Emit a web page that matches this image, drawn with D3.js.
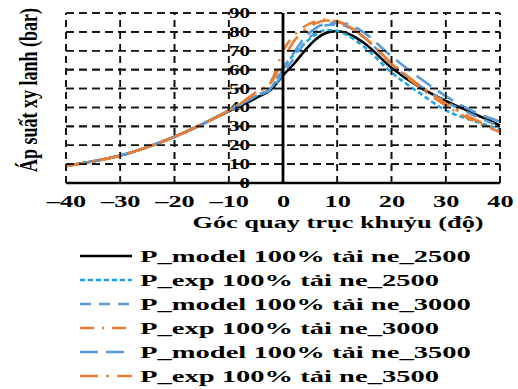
<!DOCTYPE html>
<html>
<head>
<meta charset="utf-8">
<script src="https://cdn.jsdelivr.net/npm/d3@7"></script>
<style>
  body { margin: 0; background: #fff; }
  text { font-family: "Liberation Serif", "Times New Roman", serif; font-weight: bold; fill: #000; }
</style>
</head>
<body>
<div id="chart"></div>
<script>
// crank angle (deg)
const angle = [-40, -35, -30, -25, -20, -15, -10, -5, -2, 0, 2, 4, 6, 8, 10, 12, 15, 20, 25, 30, 35, 40];

const pModel2500 = [9, 11.5, 14.5, 19, 24.5, 31, 38, 45, 50, 57, 63, 70, 76, 79.5, 80.5, 79, 74, 61, 51, 43.5, 37, 30.5];
const pExp2500   = [9, 11.5, 14.5, 19, 24.5, 31, 38, 46, 51, 61, 68, 74, 78.5, 81, 80.5, 78, 72, 58.5, 48, 38.5, 33, 28.5];
const pModel3000 = [9, 11.5, 14.5, 19, 24.5, 31, 38.5, 46, 50, 58, 66, 74, 80, 83.5, 84, 82.5, 77, 63, 52, 43, 36, 30];
const pExp3000   = [9, 11.5, 14.5, 19, 24.5, 31, 38.5, 48, 55, 70, 78, 83, 85.5, 86.5, 85.5, 83, 77, 63, 51, 41, 33, 27];
const pModel3500 = [9, 11.5, 14.5, 19, 24.5, 31, 38.5, 46, 51, 60, 69, 77, 82, 84.5, 85, 84, 79.5, 67, 56, 46, 38, 32.5];
const pExp3500   = [9, 11.5, 14.5, 19, 24.5, 31, 38.5, 47.5, 54, 65, 75, 81, 84.5, 86, 85.5, 83, 77, 63.5, 52, 42, 34, 28];

const seriesNames = [
  "P_model 100% tải ne_2500",
  "P_exp 100% tải ne_2500",
  "P_model 100% tải ne_3000",
  "P_exp 100% tải ne_3000",
  "P_model 100% tải ne_3500",
  "P_exp 100% tải ne_3500"
];
const seriesValues = [pModel2500, pExp2500, pModel3000, pExp3000, pModel3500, pExp3500];
const seriesColors = ["#000000", "#1aa7e4", "#5b9bd5", "#ed7d31", "#5b9bd5", "#ed7d31"];
const seriesDash = ["none", "5,3", "11,8", "14,8,2,8", "18,8", "18,8,3,8"];

const xTicks = [-40, -30, -20, -10, 0, 10, 20, 30, 40];
const yTicks = [0, 10, 20, 30, 40, 50, 60, 70, 80, 90];

const W = 518, H = 389;
const stretch = 1.55; // glyphs in the reference look stretched sideways

const svg = d3.select("#chart").append("svg")
  .attr("width", W)
  .attr("height", H);

const x = d3.scaleLinear().domain([-40, 40]).range([66, 500]);
const y = d3.scaleLinear().domain([0, 90]).range([183, 13]);

// grid paths
const hPath = d3.path();
yTicks.filter(d => d > 0).forEach(d => { hPath.moveTo(x(-40), y(d)); hPath.lineTo(x(40), y(d)); });
const vPath = d3.path();
xTicks.filter(d => d !== 0).forEach(d => { vPath.moveTo(x(d), y(0)); vPath.lineTo(x(d), y(90)); });

function drawGrid(parent) {
  parent.append("path")
    .attr("d", hPath.toString())
    .attr("fill", "none")
    .attr("stroke", "#111").attr("stroke-width", 1.6)
    .attr("stroke-dasharray", "8,5");
  parent.append("path")
    .attr("d", vPath.toString())
    .attr("fill", "none")
    .attr("stroke", "#111").attr("stroke-width", 1.6)
    .attr("stroke-dasharray", "7,5");
}

drawGrid(svg.append("g").attr("class", "grid"));

// x axis labels
const xAxis = d3.axisBottom(x).tickValues(xTicks).tickSize(0).tickPadding(12)
  .tickFormat(d => d < 0 ? "\u2013" + Math.abs(d) : d);
svg.append("g")
  .attr("transform", `translate(0,${y(0)})`)
  .call(xAxis)
  .call(g => g.select(".domain").remove())
  .call(g => g.selectAll("text")
    .attr("font-family", null)
    .style("font-size", "17px")
    .attr("transform", `scale(${stretch},1)`));

// y labels sit left of the zero-angle axis
const yAxis = d3.axisLeft(y).tickValues(yTicks).tickSize(0).tickPadding(0);
svg.append("g")
  .attr("transform", `translate(${x(0) - 33},0)`)
  .call(yAxis)
  .call(g => g.select(".domain").remove())
  .call(g => g.selectAll("text")
    .attr("font-family", null)
    .style("font-size", "14px")
    .attr("transform", `scale(${stretch - 0.05},1)`));

// curves
const lineGen = d3.line()
  .x((d, i) => x(angle[i]))
  .y(d => y(d))
  .curve(d3.curveMonotoneX);

const order = [0, 1, 2, 4, 3, 5];
svg.append("g")
  .selectAll("path")
  .data(order)
  .join("path")
  .attr("d", i => lineGen(seriesValues[i]))
  .attr("fill", "none")
  .attr("stroke", i => seriesColors[i])
  .attr("stroke-width", 2.6)
  .attr("stroke-dasharray", i => seriesDash[i]);

// solid axes
svg.append("line")
  .attr("x1", x(-40)).attr("x2", x(40))
  .attr("y1", y(0)).attr("y2", y(0))
  .attr("stroke", "#000").attr("stroke-width", 2.5);
svg.append("line")
  .attr("x1", x(0)).attr("x2", x(0))
  .attr("y1", y(0)).attr("y2", y(90))
  .attr("stroke", "#000").attr("stroke-width", 2.8);

// axis titles
svg.append("text")
  .attr("transform", `translate(338,228) scale(${stretch},1)`)
  .attr("text-anchor", "middle")
  .style("font-size", "17px")
  .text("Góc quay trục khuỷu (độ)");

svg.append("text")
  .attr("transform", `translate(37,90) scale(1.35,1) rotate(-90)`)
  .attr("text-anchor", "middle")
  .style("font-size", "18px")
  .text("Áp suất xy lanh (bar)");

// legend
const legend = svg.append("g")
  .selectAll("g")
  .data(seriesNames)
  .join("g")
  .attr("transform", (d, i) => `translate(80,${256 + i * 24})`);

legend.append("line")
  .attr("x1", 0).attr("x2", 52)
  .attr("stroke", (d, i) => seriesColors[i])
  .attr("stroke-width", 2.6)
  .attr("stroke-dasharray", (d, i) => seriesDash[i]);

legend.append("text")
  .attr("transform", `translate(60,6) scale(1.68,1)`)
  .style("font-size", "17px")
  .text(d => d);

// second grid copy on top, same geometry
drawGrid(svg.append("g").attr("class", "grid-top"));
</script>
</body>
</html>
